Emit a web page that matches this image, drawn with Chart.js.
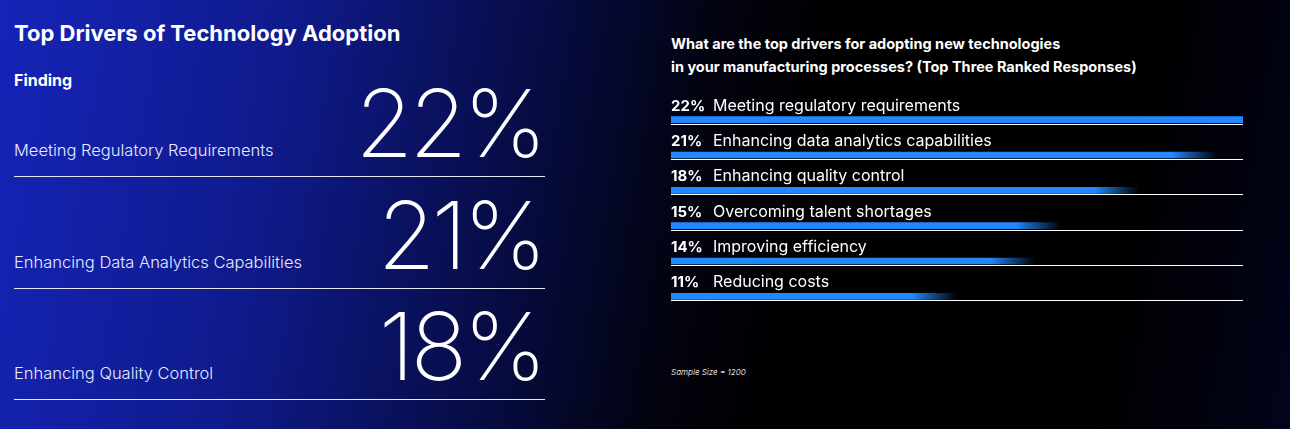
<!DOCTYPE html>
<html><head><meta charset="utf-8">
<script src="https://cdn.jsdelivr.net/npm/chart.js@4"></script>
<style>
html,body{margin:0;padding:0;width:1290px;height:429px;overflow:hidden;font-family:Inter,"Noto Sans",sans-serif;color:#fff;
background:linear-gradient(100deg,#1624b8 0%,#0f1a8a 22%,#070c45 40%,#02030f 53%,#000 62%,#000 85%,#02041a 100%);}
.abs{position:absolute;white-space:nowrap}
#title{left:14px;top:20px;font-size:22px;font-weight:700}
#finding{left:14px;top:70px;font-size:16px;font-weight:700}
.row{position:absolute;left:14px;width:531px;height:112px;border-bottom:1px solid #e6e8f5}
.row .lab{position:absolute;left:0;bottom:16px;font-size:16.5px;font-weight:300;color:#e8eaff}
.row .big{position:absolute;right:2px;bottom:6px;font-size:94px;font-weight:200;line-height:1;letter-spacing:-4px}
#q{left:671px;top:32px;font-size:14.5px;font-weight:700;line-height:23px}
#ss{left:671px;top:367px;font-size:8px;font-style:italic;color:#ddd}
canvas{position:absolute;left:0;top:0}
</style></head><body>
<div class="abs" id="title">Top Drivers of Technology Adoption</div>
<div class="abs" id="finding">Finding</div>
<div id="rows"></div>
<div class="abs" id="q">What are the top drivers for adopting new technologies<br>in your manufacturing processes? (Top Three Ranked Responses)</div>
<div class="abs" id="ss">Sample Size = 1200</div>
<div style="position:absolute;left:0;top:0;width:1290px;height:429px"><canvas id="c"></canvas></div>
<script>
const findingLabels = ['Meeting Regulatory Requirements','Enhancing Data Analytics Capabilities','Enhancing Quality Control'];
const findingValues = [22, 21, 18];
const driverLabels = ['Meeting regulatory requirements','Enhancing data analytics capabilities','Enhancing quality control','Overcoming talent shortages','Improving efficiency','Reducing costs'];
const driverValues = [22, 21, 18, 15, 14, 11];

const rows = document.getElementById('rows');
findingLabels.forEach((l, i) => {
  const d = document.createElement('div');
  d.className = 'row';
  d.style.top = (64 + i * 111.5) + 'px';
  d.innerHTML = `<span class="lab">${l}</span><span class="big">${findingValues[i]}%</span>`;
  rows.appendChild(d);
});

const blue = '#2188ff';
function barFill(ctx) {
  const chart = ctx.chart;
  const xs = chart.scales.x;
  if (!xs || !chart.chartArea) return blue;
  const v = driverValues[ctx.dataIndex];
  const x0 = xs.getPixelForValue(0), x1 = xs.getPixelForValue(v);
  if (!isFinite(x0) || !isFinite(x1) || x1 - x0 < 50) return blue;
  const g = chart.ctx.createLinearGradient(x0, 0, x1, 0);
  const s = (x1 - x0 - 45) / (x1 - x0);
  g.addColorStop(0, blue);
  g.addColorStop(s, blue);
  g.addColorStop(1, ctx.dataIndex === 0 ? blue : 'rgba(33,136,255,0)');
  return g;
}

const rowText = {
  id: 'rowText',
  afterDatasetsDraw(chart) {
    const c = chart.ctx, meta = chart.getDatasetMeta(0), a = chart.chartArea;
    c.save();
    meta.data.forEach((bar, i) => {
      c.strokeStyle = '#ffffff';
      c.lineWidth = 1;
      c.beginPath();
      c.moveTo(a.left, Math.round(bar.y + 4) + 0.5);
      c.lineTo(a.right, Math.round(bar.y + 4) + 0.5);
      c.stroke();
      c.fillStyle = '#fff';
      c.textBaseline = 'alphabetic';
      c.font = '700 15px Inter, sans-serif';
      c.fillText(driverValues[i] + '%', a.left, bar.y - 9);
      c.font = '400 16px Inter, sans-serif';
      c.fillText(driverLabels[i], a.left + 42, bar.y - 9);
    });
    c.restore();
  }
};

new Chart(document.getElementById('c'), {
  type: 'bar',
  data: { labels: driverLabels, datasets: [{ data: driverValues, backgroundColor: barFill, barThickness: 6, borderWidth: 0 }] },
  options: {
    indexAxis: 'y', responsive: true, maintainAspectRatio: false, animation: false,
    layout: { padding: { left: 671, right: 47, top: 102, bottom: 115 } },
    scales: {
      x: { display: false, min: 0, max: 22 },
      y: { display: false }
    },
    plugins: { legend: { display: false }, tooltip: { enabled: false } }
  },
  plugins: [rowText]
});
</script>
</body></html>
